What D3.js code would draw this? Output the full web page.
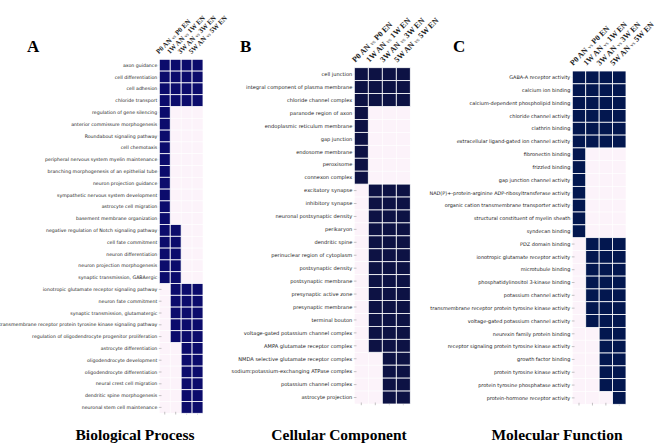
<!DOCTYPE html>
<html><head><meta charset="utf-8">
<script src="https://cdn.jsdelivr.net/npm/d3@7"></script>
<style>body{margin:0;background:#fff}svg{display:block}</style>
</head><body>
<svg id="c" width="660" height="448"></svg>
<script>
// ---- data ----
const columns = ["P0", "1W", "3W", "5W"];

const bpTerms = ["axon guidance","cell differentiation","cell adhesion","chloride transport",
"regulation of gene silencing","anterior commissure morphogenesis","Roundabout signaling pathway","cell chemotaxis",
"peripheral nervous system myelin maintenance","branching morphogenesis of an epithelial tube","neuron projection guidance",
"sympathetic nervous system development","astrocyte cell migration","basement membrane organization",
"negative regulation of Notch signaling pathway","cell fate commitment","neuron differentiation","neuron projection morphogenesis",
"synaptic transmission, GABAergic","ionotropic glutamate receptor signaling pathway","neuron fate commitment",
"synaptic transmission, glutamatergic","transmembrane receptor protein tyrosine kinase signaling pathway",
"regulation of oligodendrocyte progenitor proliferation","astrocyte differentiation","oligodendrocyte development",
"oligodendrocyte differentiation","neural crest cell migration","dendritic spine morphogenesis","neuronal stem cell maintenance"];
const bpValues = [[1,1,1,1],[1,1,1,1],[1,1,1,1],[1,1,1,1],
[1,0,0,0],[1,0,0,0],[1,0,0,0],[1,0,0,0],[1,0,0,0],[1,0,0,0],[1,0,0,0],[1,0,0,0],[1,0,0,0],[1,0,0,0],
[1,1,0,0],[1,1,0,0],[1,1,0,0],[1,1,0,0],[1,1,0,0],
[0,1,1,1],[0,1,1,1],[0,1,1,1],[0,1,1,1],[0,1,1,1],
[0,0,1,1],[0,0,1,1],[0,0,1,1],[0,0,1,1],[0,0,1,1],[0,0,1,1]];

const ccTerms = ["cell junction","integral component of plasma membrane","chloride channel complex",
"paranode region of axon","endoplasmic reticulum membrane","gap junction","endosome membrane","peroxisome","connexon complex",
"excitatory synapse","inhibitory synapse","neuronal postsynaptic density","perikaryon","dendritic spine",
"perinuclear region of cytoplasm","postsynaptic density","postsynaptic membrane","presynaptic active zone",
"presynaptic membrane","terminal bouton","voltage-gated potassium channel complex","AMPA glutamate receptor complex",
"NMDA selective glutamate receptor complex","sodium:potassium-exchanging ATPase complex","potassium channel complex","astrocyte projection"];
const ccValues = [[1,1,1,1],[1,1,1,1],[1,1,1,1],
[1,0,0,0],[1,0,0,0],[1,0,0,0],[1,0,0,0],[1,0,0,0],[1,0,0,0],
[0,1,1,1],[0,1,1,1],[0,1,1,1],[0,1,1,1],[0,1,1,1],[0,1,1,1],[0,1,1,1],[0,1,1,1],[0,1,1,1],[0,1,1,1],[0,1,1,1],[0,1,1,1],[0,1,1,1],
[0,0,1,1],[0,0,1,1],[0,0,1,1],[0,0,1,1]];

const mfTerms = ["GABA-A receptor activity","calcium ion binding","calcium-dependent phospholipid binding",
"chloride channel activity","clathrin binding","extracellular ligand-gated ion channel activity",
"fibronectin binding","frizzled binding","gap junction channel activity",
"NAD(P)+-protein-arginine ADP-ribosyltransferase activity","organic cation transmembrane transporter activity",
"structural constituent of myelin sheath","syndecan binding","PDZ domain binding","ionotropic glutamate receptor activity",
"microtubule binding","phosphatidylinositol 3-kinase binding","potassium channel activity",
"transmembrane receptor protein tyrosine kinase activity","voltage-gated potassium channel activity",
"neurexin family protein binding","receptor signaling protein tyrosine kinase activity","growth factor binding",
"protein tyrosine kinase activity","protein tyrosine phosphatase activity","protein-hormone receptor activity"];
const mfValues = [[1,1,1,1],[1,1,1,1],[1,1,1,1],[1,1,1,1],[1,1,1,1],[1,1,1,1],
[1,0,0,0],[1,0,0,0],[1,0,0,0],[1,0,0,0],[1,0,0,0],[1,0,0,0],[1,0,0,0],
[0,1,1,1],[0,1,1,1],[0,1,1,1],[0,1,1,1],[0,1,1,1],[0,1,1,1],[0,1,1,1],
[0,0,1,1],[0,0,1,1],[0,0,1,1],[0,0,1,1],[0,0,1,1],
[0,0,0,1]];

const panelLetters = ["A","B","C"];
const panelTitles = ["Biological Process","Cellular Component","Molecular Function"];

// ---- layout ----
const layouts = [
  {terms: bpTerms, values: bpValues, x:[159.3,203], y:[59.3,413.3], fill:"#0c0c6c", fs:4.7, hfs:6.9, letterX:27, titleX:135},
  {terms: ccTerms, values: ccValues, x:[354.3,410.3], y:[67.7,404], fill:"#0d1244", fs:5.1, hfs:8.0, letterX:240, titleX:339},
  {terms: mfTerms, values: mfValues, x:[572.3,626], y:[71,404.3], fill:"#03174f", fs:4.95, hfs:7.9, letterX:453, titleX:557}
];
const emptyFill = "#fcf3fa";

const svg = d3.select("#c");

layouts.forEach((L, pi) => {
  const g = svg.append("g");
  const xs = d3.scaleBand().domain(columns).range(L.x);
  const ys = d3.scaleBand().domain(L.terms).range(L.y);
  const cells = [];
  L.terms.forEach((t, ri) => columns.forEach((c, ci) => cells.push({t, c, v: L.values[ri][ci]})));

  // empty cells
  g.selectAll("rect.e").data(cells.filter(d => !d.v)).join("rect")
    .attr("x", d => xs(d.c)).attr("y", d => ys(d.t))
    .attr("width", xs.bandwidth()).attr("height", ys.bandwidth())
    .attr("fill", emptyFill).attr("stroke", "#fff").attr("stroke-width", 0.6);

  // inward ticks (left and bottom)
  g.selectAll("line.yt").data(L.terms).join("line")
    .attr("x1", L.x[0] - 0.5).attr("x2", L.x[0] + 2.2)
    .attr("y1", d => ys(d) + ys.bandwidth()/2).attr("y2", d => ys(d) + ys.bandwidth()/2)
    .attr("stroke", "#9a9a9a").attr("stroke-width", 0.6);
  g.selectAll("line.xt").data(columns).join("line")
    .attr("x1", d => xs(d) + xs.bandwidth()/2).attr("x2", d => xs(d) + xs.bandwidth()/2)
    .attr("y1", L.y[1] - 1.5).attr("y2", L.y[1] + 1.2)
    .attr("stroke", "#9a9a9a").attr("stroke-width", 0.6);

  // filled cells
  g.selectAll("rect.f").data(cells.filter(d => d.v)).join("rect")
    .attr("x", d => xs(d.c)).attr("y", d => ys(d.t))
    .attr("width", xs.bandwidth()).attr("height", ys.bandwidth())
    .attr("fill", L.fill).attr("stroke", "#fff").attr("stroke-width", 0.8);

  // row labels
  g.selectAll("text.rl").data(L.terms).join("text")
    .attr("x", L.x[0] - 2).attr("y", d => ys(d) + ys.bandwidth()/2)
    .attr("dy", "0.35em").attr("text-anchor", "end")
    .attr("font-family", "DejaVu Sans, Verdana, sans-serif")
    .attr("font-size", L.fs).attr("fill", "#1a1a1a")
    .text(d => d);

  // column headers
  columns.forEach(c => {
    const cx = xs(c) + xs.bandwidth()/2 - 6;
    const cy = L.y[0] - 5;
    const t = g.append("text")
      .attr("transform", `translate(${cx},${cy}) rotate(-45)`)
      .attr("font-family", "Liberation Serif, Times New Roman, serif")
      .attr("font-size", L.hfs).attr("font-weight", "bold").attr("fill", "#222");
    t.append("tspan").text(c + " AN ");
    t.append("tspan").attr("font-size", L.hfs * 0.7).attr("font-weight", "normal").text("vs");
    t.append("tspan").text(" " + c + " EN");
  });

  // panel letter
  svg.append("text").attr("x", L.letterX).attr("y", 52)
    .attr("font-family", "Liberation Serif, Times New Roman, serif")
    .attr("font-size", 17).attr("font-weight", "bold").attr("fill", "#000")
    .text(panelLetters[pi]);

  // title
  svg.append("text").attr("x", L.titleX).attr("y", 440).attr("text-anchor", "middle")
    .attr("font-family", "Liberation Serif, Times New Roman, serif")
    .attr("font-size", 15.5).attr("font-weight", "bold").attr("fill", "#000")
    .text(panelTitles[pi]);
});
</script>
</body></html>
